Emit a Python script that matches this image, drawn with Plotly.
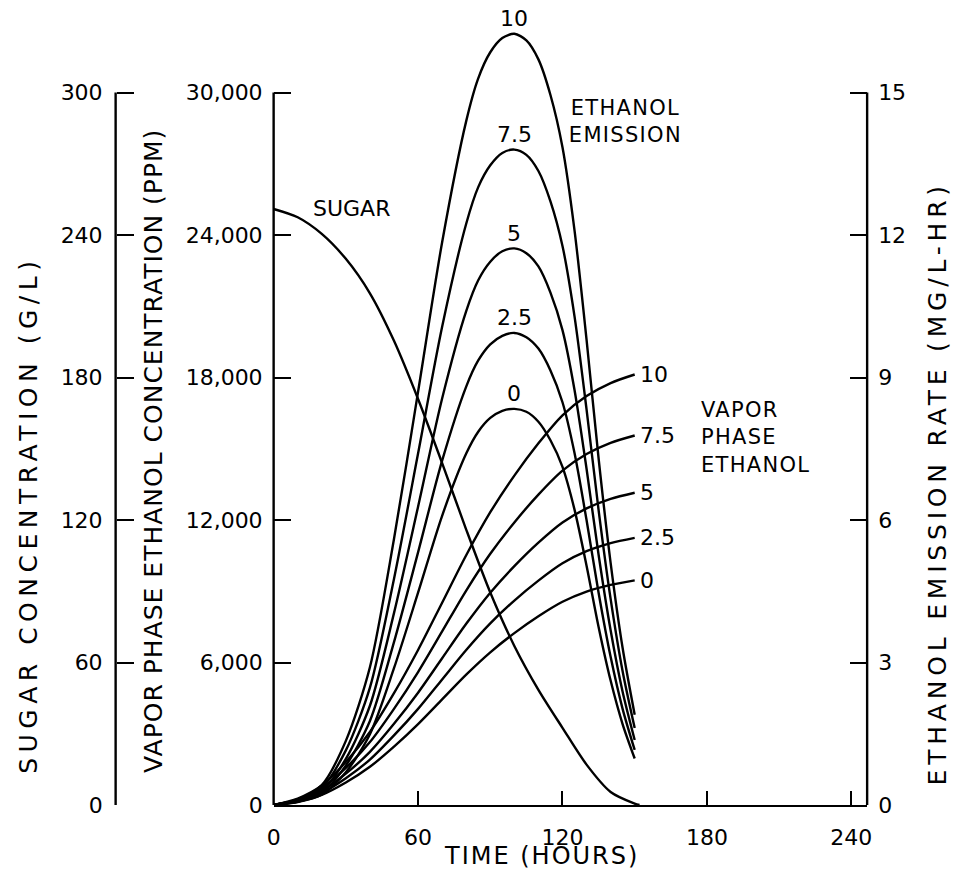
import plotly.graph_objects as go

# ---------------- data ----------------
time_emission = [0, 10, 20, 30, 40, 50, 60, 70, 80, 85, 90, 95, 100, 105, 110, 115, 120, 125, 130, 135, 140, 145, 150]
emission_10 = [0, 0.12, 0.42, 1.35, 2.9, 5.6, 8.7, 11.85, 14.4, 15.3, 15.85, 16.15, 16.24, 16.1, 15.7, 14.95, 13.85, 12.1, 9.8, 7.3, 5.1, 3.3, 1.9]
emission_7_5 = [0, 0.10, 0.36, 1.15, 2.47, 4.76, 7.40, 10.07, 12.24, 13.01, 13.47, 13.73, 13.80, 13.69, 13.35, 12.71, 11.77, 10.29, 8.33, 6.21, 4.34, 2.81, 1.62]
emission_5 = [0, 0.09, 0.30, 0.97, 2.09, 4.04, 6.28, 8.56, 10.40, 11.05, 11.44, 11.66, 11.72, 11.62, 11.34, 10.79, 10.00, 8.74, 7.08, 5.27, 3.68, 2.38, 1.37]
emission_2_5 = [0, 0.07, 0.26, 0.83, 1.77, 3.43, 5.32, 7.25, 8.81, 9.36, 9.70, 9.88, 9.94, 9.85, 9.61, 9.15, 8.48, 7.41, 6.00, 4.47, 3.12, 2.02, 1.16]
emission_0 = [0, 0.06, 0.22, 0.69, 1.49, 2.88, 4.47, 6.09, 7.40, 7.86, 8.15, 8.30, 8.34, 8.28, 8.07, 7.68, 7.12, 6.22, 5.04, 3.75, 2.62, 1.70, 0.98]

time_vapor = [0, 10, 20, 30, 40, 50, 60, 70, 80, 90, 100, 110, 120, 130, 140, 150]
vapor_10 = [0, 270, 820, 1810, 3080, 4710, 6530, 8520, 10520, 12330, 13870, 15230, 16410, 17220, 17770, 18130]
vapor_7_5 = [0, 230, 700, 1560, 2650, 4050, 5600, 7310, 9030, 10580, 11900, 13070, 14080, 14780, 15250, 15560]
vapor_5 = [0, 200, 590, 1320, 2240, 3420, 4730, 6180, 7630, 8940, 10060, 11050, 11900, 12490, 12890, 13150]
vapor_2_5 = [0, 170, 510, 1130, 1910, 2930, 4050, 5290, 6530, 7650, 8610, 9450, 10180, 10690, 11030, 11250]
vapor_0 = [0, 140, 430, 950, 1610, 2460, 3410, 4450, 5490, 6430, 7240, 7950, 8560, 8990, 9270, 9460]

time_sugar = [0, 10, 20, 30, 40, 50, 60, 70, 80, 90, 100, 110, 120, 130, 140, 150, 152]
sugar = [251, 247.5, 240.5, 230, 215.5, 195.5, 171, 144, 116, 89.5, 67, 48.5, 32.5, 17, 5.5, 0.6, 0]

series_labels = ["10", "7.5", "5", "2.5", "0"]
emission_series = [emission_10, emission_7_5, emission_5, emission_2_5, emission_0]
vapor_series = [vapor_10, vapor_7_5, vapor_5, vapor_2_5, vapor_0]

time_ticks = [0, 60, 120, 180, 240]
sugar_ticks = [0, 60, 120, 180, 240, 300]
vapor_ticks = [0, 6000, 12000, 18000, 24000, 30000]
vapor_ticktext = ["0", "6,000", "12,000", "18,000", "24,000", "30,000"]
emission_ticks = [0, 3, 6, 9, 12, 15]

# ---------------- layout geometry (pixels) ----------------
W, H = 962, 886
PX_LEFT, PX_RIGHT = 270, 871      # plot area x
PX_X240 = 855                     # x of t = 240
PX_BOTTOM, PX_TOP_TICK = 817, 94  # y of zero and of top tick
PX_DOMAIN_TOP = 10
PX_SUGAR_AXIS = 110

def px(x):
    return x / W

def py(y):
    return 1 - y / H

x_max = 240 * (PX_RIGHT - PX_LEFT) / (PX_X240 - PX_LEFT)
scale_top = (PX_BOTTOM - PX_DOMAIN_TOP) / (PX_BOTTOM - PX_TOP_TICK)

FONT = "DejaVu Sans"
BLACK = "#000000"
LW = 2.4

fig = go.Figure()

fig.add_trace(go.Scatter(x=time_sugar, y=sugar, yaxis="y2", mode="lines",
                         line=dict(color=BLACK, width=LW, shape="spline", smoothing=0.8),
                         showlegend=False, hoverinfo="skip"))
for ys in vapor_series:
    fig.add_trace(go.Scatter(x=time_vapor, y=ys, yaxis="y", mode="lines",
                             line=dict(color=BLACK, width=LW, shape="spline", smoothing=0.8),
                             showlegend=False, hoverinfo="skip"))
for ys in emission_series:
    fig.add_trace(go.Scatter(x=time_emission, y=ys, yaxis="y3", mode="lines",
                             line=dict(color=BLACK, width=LW, shape="spline", smoothing=0.8),
                             showlegend=False, hoverinfo="skip"))

tickfont = dict(family=FONT, size=22, color=BLACK)
ydom = [py(PX_BOTTOM), py(PX_DOMAIN_TOP)]

fig.update_layout(
    width=W, height=H,
    margin=dict(l=0, r=0, t=0, b=0),
    paper_bgcolor="white", plot_bgcolor="white",
    showlegend=False,
    xaxis=dict(domain=[px(PX_LEFT), px(PX_RIGHT)], range=[0, x_max],
               tickmode="array", tickvals=time_ticks, ticks="inside", ticklen=14, tickwidth=2,
               tickcolor=BLACK, showline=True, linewidth=LW, linecolor=BLACK,
               showgrid=False, zeroline=False, tickfont=tickfont, ticklabelstandoff=11,
               anchor="y"),
    yaxis=dict(domain=ydom, range=[0, 30000 * scale_top], tickmode="array",
               tickvals=vapor_ticks, ticktext=vapor_ticktext, ticks="inside", ticklen=17,
               tickwidth=2, tickcolor=BLACK, showline=False, showgrid=False, zeroline=False,
               tickfont=tickfont, ticklabelstandoff=10, anchor="x"),
    yaxis2=dict(domain=ydom, range=[0, 300 * scale_top], overlaying="y", anchor="free",
                position=px(PX_SUGAR_AXIS), side="left", tickmode="array", tickvals=sugar_ticks,
                ticks="inside", ticklen=17, tickwidth=2, tickcolor=BLACK, showline=False,
                showgrid=False, zeroline=False, tickfont=tickfont, ticklabelstandoff=13),
    yaxis3=dict(domain=ydom, range=[0, 15 * scale_top], overlaying="y", anchor="x",
                side="right", tickmode="array", tickvals=emission_ticks, ticks="inside",
                ticklen=17, tickwidth=2, tickcolor=BLACK, showline=False, showgrid=False,
                zeroline=False, tickfont=tickfont, ticklabelstandoff=10),
)

# axis lines that stop at the top tick
line_style = dict(color=BLACK, width=LW)
fig.add_shape(type="line", xref="paper", yref="y", x0=px(PX_LEFT), x1=px(PX_LEFT), y0=0, y1=30000, line=line_style)
fig.add_shape(type="line", xref="paper", yref="y2", x0=px(PX_SUGAR_AXIS), x1=px(PX_SUGAR_AXIS), y0=0, y1=300, line=line_style)
fig.add_shape(type="line", xref="paper", yref="y3", x0=px(PX_RIGHT), x1=px(PX_RIGHT), y0=0, y1=15, line=line_style)

labfont = dict(family=FONT, size=22, color=BLACK)
# curve labels
for lab, ys in zip(series_labels, emission_series):
    peak = max(ys)
    t_peak = time_emission[ys.index(peak)]
    fig.add_annotation(x=t_peak, y=peak, xref="x", yref="y3", text=lab, showarrow=False,
                       xanchor="center", yanchor="middle", yshift=15, font=labfont)
for lab, ys in zip(series_labels, vapor_series):
    fig.add_annotation(x=time_vapor[-1], y=ys[-1], xref="x", yref="y", text=lab, showarrow=False,
                       xanchor="left", yanchor="middle", xshift=3, font=labfont)

fig.add_annotation(x=px(349), y=py(212), xref="paper", yref="paper", text="SUGAR",
                   showarrow=False, xanchor="center", yanchor="middle", font=labfont)
fig.add_annotation(x=px(626), y=py(123), xref="paper", yref="paper", text="ETHANOL<br>EMISSION",
                   showarrow=False, xanchor="center", yanchor="middle", align="center",
                   font=dict(family=FONT, size=21, color=BLACK))
fig.add_annotation(x=px(701), y=py(444), xref="paper", yref="paper",
                   text="VAPOR<br>PHASE<br>ETHANOL", showarrow=False, xanchor="left",
                   yanchor="middle", align="left", font=dict(family=FONT, size=21, color=BLACK))

fig.add_annotation(x=px(541), y=py(869), xref="paper", yref="paper", text="TIME (HOURS)",
                   showarrow=False, xanchor="center", yanchor="middle",
                   font=dict(family=FONT, size=24, color=BLACK))
titlefont = dict(family=FONT, size=25, color=BLACK)
fig.add_annotation(x=px(148), y=py(458), xref="paper", yref="paper",
                   text="VAPOR PHASE ETHANOL CONCENTRATION (PPM)", textangle=-90,
                   showarrow=False, xanchor="center", yanchor="middle", font=titlefont)
fig.add_annotation(x=px(22), y=py(522), xref="paper", yref="paper",
                   text="SUGAR CONCENTRATION (G/L)", textangle=-90,
                   showarrow=False, xanchor="center", yanchor="middle", font=titlefont)
fig.add_annotation(x=px(943), y=py(491), xref="paper", yref="paper",
                   text="ETHANOL EMISSION RATE (MG/L-HR)", textangle=-90,
                   showarrow=False, xanchor="center", yanchor="middle", font=titlefont)

# page without body margin, nothing overflowing the figure; wider letter spacing
# for the hand-lettered titles
post = """
document.documentElement.style.margin='0';
document.documentElement.style.overflow='hidden';
document.body.style.margin='0';
document.body.style.overflow='hidden';
document.querySelectorAll('.plotly-graph-div, .plot-container, .svg-container').forEach(function(d){
  d.style.overflow='hidden';
});
document.querySelectorAll('svg.main-svg').forEach(function(s){ s.style.overflow='hidden'; });
var sp = {'SUGAR CONCENTRATION (G/L)': '5.5px',
          'ETHANOL EMISSION RATE (MG/L-HR)': '4.8px',
          'VAPOR PHASE ETHANOL CONCENTRATION (PPM)': '1px',
          'TIME (HOURS)': '2px',
          'ETHANOLEMISSION': '1.3px',
          'VAPORPHASEETHANOL': '1.3px'};
document.querySelectorAll('text').forEach(function(t){
  var s = sp[t.textContent];
  if (s) { t.style.letterSpacing = s; }
});
"""
fig.write_html("out.html", config={"displayModeBar": False, "staticPlot": True}, post_script=post)
